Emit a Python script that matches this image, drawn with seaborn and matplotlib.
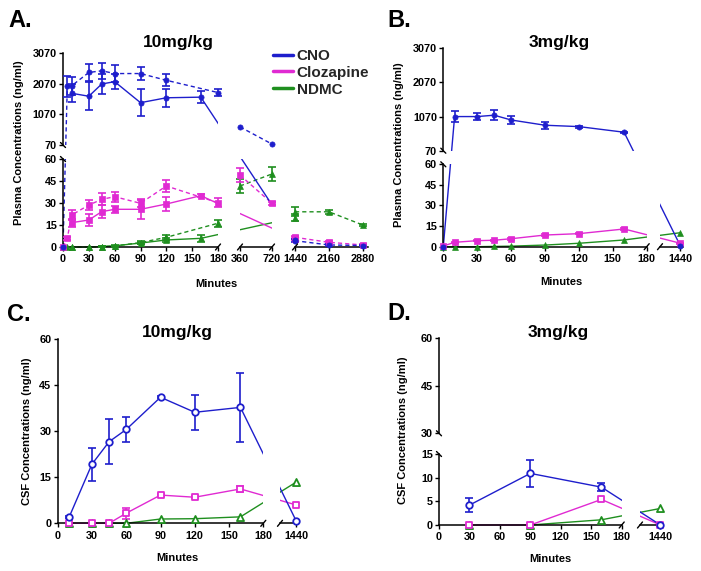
import numpy as np
import pandas as pd
import matplotlib
matplotlib.use("Agg")
import matplotlib.pyplot as plt
import seaborn as sns
from matplotlib.lines import Line2D

# ---------------- data ----------------
series_names = ["CNO", "Clozapine", "NDMC"]

# Panel A (plasma, 10 mg/kg) - solid-line group
A_solid_time = [10, 30, 45, 60, 90, 120, 160, 1440]
A_solid_cno = [1757, 1660, 2060, 2135, 1450, 1610, 1630, 5]
A_solid_cno_err = [300, 460, 330, 250, 450, 300, 200, 0]
A_solid_clz = [16.6, 18.4, 24.1, 25.7, 25.7, 29.3, 35.0, 5.7]
A_solid_clz_err = [2.7, 4.2, 4.5, 2.3, 6.8, 4.8, 1.0, 1.0]
A_solid_ndmc = [0, 0, 0.3, 0.8, 2.7, 4.8, 5.9, 20.0]
A_solid_ndmc_err = [0, 0, 0.3, 0.5, 0.8, 1.2, 2.3, 2.5]

# Panel A - dashed-line group
A_dash_time = [0, 5, 10, 30, 45, 60, 90, 120, 180, 360, 720, 1440, 2160, 2880]
A_dash_cno = [0, 1980, 2000, 2435, 2490, 2400, 2400, 2180, 1780, 660, 100, 4.3, 1.4, 1.0]
A_dash_cno_err = [0, 350, 300, 270, 270, 280, 200, 190, 120, 0, 0, 1.0, 0.5, 0.5]
A_dash_clz = [0, 5.9, 21.8, 28.6, 32.5, 34.3, 29.8, 41.6, 30.2, 49.0, 29.8, 6.6, 3.2, 1.4]
A_dash_clz_err = [0, 1.0, 3.4, 3.4, 4.0, 3.4, 2.5, 4.0, 3.0, 4.6, 1.0, 1.0, 0.8, 0.5]
A_dash_ndmc = [0, 0, 0, 0, 0.3, 0.7, 3.0, 6.6, 16.2, 41.6, 49.8, 24.0, 24.0, 15.0]
A_dash_ndmc_err = [0, 0, 0, 0, 0.2, 0.3, 0.8, 1.5, 2.3, 5.1, 4.8, 3.0, 1.5, 0.5]

# Panel B (plasma, 3 mg/kg)
B_time = [0, 10, 30, 45, 60, 90, 120, 160, 1440]
B_cno = [0, 1070, 1070, 1110, 970, 816, 776, 611, 0.5]
B_cno_err = [0, 155, 110, 140, 110, 100, 30, 20, 0]
B_clz = [0.5, 3.2, 4.4, 4.7, 5.8, 8.5, 9.5, 12.9, 2.5]
B_clz_err = [0, 0.5, 0.5, 0.5, 0.6, 0.8, 0.6, 0.8, 0.4]
B_ndmc = [0, 0, 0, 0.2, 0.4, 1.2, 2.5, 4.9, 10.2]
B_ndmc_err = [0, 0, 0, 0, 0, 0, 0, 0, 0]

# Panel C (CSF, 10 mg/kg)
C_time = [10, 30, 45, 60, 90, 120, 160, 1440]
C_cno = [2.0, 19.3, 26.6, 30.6, 41.1, 36.2, 37.8, 0.9]
C_cno_err = [0.3, 5.4, 7.3, 4.0, 0.4, 5.7, 11.2, 0]
C_clz = [0, 0, 0, 3.3, 9.2, 8.5, 11.2, 6.0]
C_clz_err = [0, 0, 0, 1.8, 0.3, 0.3, 1.0, 0]
C_ndmc = [0, 0, 0, 0, 1.4, 1.5, 2.1, 13.4]
C_ndmc_err = [0, 0, 0, 0, 0, 0, 0, 0]

# Panel D (CSF, 3 mg/kg)
D_time = [30, 90, 160, 1440]
D_cno = [4.2, 10.9, 8.0, 0]
D_cno_err = [1.4, 2.8, 0.9, 0]
D_clz = [0, 0, 5.4, 0]
D_clz_err = [0, 0, 0, 0]
D_ndmc = [0, 0, 1.1, 3.5]
D_ndmc_err = [0, 0, 0, 0]

# tick labels
minute_ticks = [0, 30, 60, 90, 120, 150, 180]
A_mid_ticks = [360, 720]
A_late_ticks = [1440, 2160, 2880]
day_ticks = [1440]
plasma_top_ticks = [70, 1070, 2070, 3070]
plasma_bot_ticks = [0, 15, 30, 45, 60]
csf_ticks = [0, 15, 30, 45, 60]
D_top_ticks = [30, 45, 60]
D_bot_ticks = [0, 5, 10, 15]

# ---------------- style ----------------
sns.set_theme(style="ticks")
plt.rcParams['font.family'] = ['Liberation Sans', 'DejaVu Sans']
plt.rcParams['font.weight'] = 'bold'

BLUE = '#1e1ecc'
MAG = '#e02ad2'
GREEN = '#1f8f1f'

W, H = 701, 571
fig = plt.figure(figsize=(W / 100, H / 100), dpi=100)
fig.patch.set_facecolor('white')


def make_panel(xsegs, ysegs, xticks, yticks):
    grid = []
    for yi, (ylim, (py0, py1)) in enumerate(ysegs):
        row = []
        for xi, (xlim, (px0, px1)) in enumerate(xsegs):
            ax = fig.add_axes([px0 / W, 1 - py1 / H, (px1 - px0) / W, (py1 - py0) / H])
            ax.patch.set_alpha(0)
            ax.set_xlim(*xlim)
            ax.set_ylim(*ylim)
            ax._seg_col = xi
            row.append(ax)
        grid.append(row)
    return dict(xsegs=xsegs, ysegs=ysegs, grid=grid, pending=[],
                axes=[a for r in grid for a in r], xticks=xticks, yticks=yticks)


def locate(panel, x, y):
    def pick(segs, v):
        best, bd = 0, None
        for i, (lim, _) in enumerate(segs):
            d = 0 if lim[0] <= v <= lim[1] else min(abs(v - lim[0]), abs(v - lim[1]))
            if bd is None or d < bd:
                best, bd = i, d
        return best
    return panel['grid'][pick(panel['ysegs'], y)][pick(panel['xsegs'], x)]


def draw(panel, xs, ys, es, color, marker, ms, dashed=False, open_=False):
    ls = (0, (3.0, 2.2)) if dashed else '-'
    locs = [locate(panel, x, y) for x, y in zip(xs, ys)]
    n = len(xs)

    def flush(run):
        if len(run) >= 2:
            ax = locs[run[0]]
            sns.lineplot(x=[xs[j] for j in run], y=[ys[j] for j in run], ax=ax,
                         color=color, lw=1.0, linestyle=ls, sort=False,
                         estimator=None, clip_on=False, zorder=2, legend=False)

    run = [0]
    for i in range(1, n):
        if locs[i] is locs[i - 1]:
            run.append(i)
        else:
            flush(run)
            panel['pending'].append((xs[i - 1], ys[i - 1], locs[i - 1],
                                     xs[i], ys[i], locs[i], color, ls))
            run = [i]
    flush(run)

    df = pd.DataFrame({'t': xs, 'v': ys, 'e': es})
    for ax in panel['axes']:
        idx = [k for k in range(n) if locs[k] is ax]
        if not idx:
            continue
        sub = df.iloc[idx]
        eb = sub[sub.e > 0]
        if len(eb):
            cont = ax.errorbar(eb.t, eb.v, yerr=eb.e, fmt='none', ecolor=color,
                               elinewidth=1.2, capsize=2.6, capthick=1.2, zorder=4)
            for art in list(cont.lines[1]) + list(cont.lines[2]):
                art.set_clip_on(False)
        if open_:
            sns.scatterplot(data=sub, x='t', y='v', ax=ax, marker=marker, s=ms,
                            color='white', edgecolor=color, linewidth=1.3,
                            zorder=5, clip_on=False, legend=False)
        else:
            sns.scatterplot(data=sub, x='t', y='v', ax=ax, marker=marker, s=ms,
                            color=color, edgecolor=color, linewidth=0.5,
                            zorder=5, clip_on=False, legend=False)


def draw_connections(panel):
    # segments joining points that sit in different axis segments: drawn
    # clipped in the end segments and in segments of the columns in between
    for (x0, y0, a0, x1, y1, a1, color, ls) in panel['pending']:
        d0 = a0.transData.transform((x0, y0))
        d1 = a1.transData.transform((x1, y1))
        for ax in panel['axes']:
            if ax is not a0 and ax is not a1 and ax._seg_col in (a0._seg_col, a1._seg_col):
                continue
            inv = ax.transData.inverted()
            p0 = inv.transform(d0)
            p1 = inv.transform(d1)
            ax.plot([p0[0], p1[0]], [p0[1], p1[1]], color=color, lw=1.0,
                    linestyle=ls, clip_on=True, zorder=2)


def fline(x0, y0, x1, y1):
    fig.add_artist(Line2D([x0 / W, x1 / W], [1 - y0 / H, 1 - y1 / H],
                          transform=fig.transFigure, color='black', lw=1.0))


def finalize(panel):
    xsegs, ysegs, grid = panel['xsegs'], panel['ysegs'], panel['grid']
    nrow, ncol = len(ysegs), len(xsegs)
    for yi in range(nrow):
        for xi in range(ncol):
            ax = grid[yi][xi]
            ax.set_xlim(*xsegs[xi][0])
            ax.set_ylim(*ysegs[yi][0])
            ax.set_autoscale_on(False)
            ax.set_xlabel('')
            ax.set_ylabel('')
            for s in ax.spines.values():
                s.set_visible(False)
            ax.grid(False)
            if xi == 0:
                ax.spines['left'].set_visible(True)
                ax.spines['left'].set_color('black')
                ax.spines['left'].set_linewidth(1.1)
                ax.set_yticks(panel['yticks'][yi])
                ax.set_yticklabels([str(t) for t in panel['yticks'][yi]])
            else:
                ax.set_yticks([])
            if yi == nrow - 1:
                ax.spines['bottom'].set_visible(True)
                ax.spines['bottom'].set_color('black')
                ax.spines['bottom'].set_linewidth(1.1)
                ax.set_xticks(panel['xticks'][xi])
                ax.set_xticklabels([str(t) for t in panel['xticks'][xi]])
            else:
                ax.set_xticks([])
            ax.tick_params(axis='y', direction='out', length=3, width=1, color='black',
                           labelsize=7.8, labelcolor='black', pad=1.5)
            ax.tick_params(axis='x', direction='out', length=3, width=1, color='black',
                           labelsize=7.8, labelcolor='black', pad=2.2)
            for lab in ax.get_xticklabels() + ax.get_yticklabels():
                lab.set_fontweight('bold')
    draw_connections(panel)
    # x-axis break marks
    ybot = ysegs[-1][1][1]
    for xi in range(ncol):
        px0, px1 = xsegs[xi][1]
        if xi < ncol - 1:
            fline(px1 - 2.5, ybot + 3, px1 + 2.5, ybot - 3)
        if xi > 0:
            fline(px0 - 2.5, ybot + 3, px0 + 2.5, ybot - 3)
    # y-axis break marks
    xl = xsegs[0][1][0]
    for yi in range(nrow):
        py0, py1 = ysegs[yi][1]
        if yi < nrow - 1:
            fline(xl - 2.5, py1 - 2.5, xl + 2.5, py1 + 2.5)
        if yi > 0:
            fline(xl - 2.5, py0 - 2.5, xl + 2.5, py0 + 2.5)


# ---------------- panel A ----------------
pA = make_panel(
    xsegs=[((0, 180), (63, 218)), ((360, 720), (240, 272)), ((1440, 2990), (295, 368))],
    ysegs=[((70, 3070), (53, 145)), ((0, 60), (159, 247))],
    xticks=[minute_ticks, A_mid_ticks, A_late_ticks],
    yticks=[plasma_top_ticks, plasma_bot_ticks])
draw(pA, A_dash_time, A_dash_ndmc, A_dash_ndmc_err, GREEN, '^', 18, dashed=True)
draw(pA, A_solid_time, A_solid_ndmc, A_solid_ndmc_err, GREEN, '^', 18)
draw(pA, A_dash_time, A_dash_clz, A_dash_clz_err, MAG, 's', 13, dashed=True)
draw(pA, A_solid_time, A_solid_clz, A_solid_clz_err, MAG, 's', 13)
draw(pA, A_dash_time, A_dash_cno, A_dash_cno_err, BLUE, 'o', 14, dashed=True)
draw(pA, A_solid_time, A_solid_cno, A_solid_cno_err, BLUE, 'o', 14)
finalize(pA)

# ---------------- panel B ----------------
pB = make_panel(
    xsegs=[((0, 180), (443.3, 646.7)), ((1360, 1450), (660, 683))],
    ysegs=[((70, 3070), (48.3, 150.7)), ((0, 60), (164.3, 246.7))],
    xticks=[minute_ticks, day_ticks],
    yticks=[plasma_top_ticks, plasma_bot_ticks])
draw(pB, B_time, B_ndmc, B_ndmc_err, GREEN, '^', 18)
draw(pB, B_time, B_clz, B_clz_err, MAG, 's', 13)
draw(pB, B_time, B_cno, B_cno_err, BLUE, 'o', 14)
finalize(pB)

# ---------------- panel C ----------------
pC = make_panel(
    xsegs=[((0, 180), (57.7, 263.3)), ((1360, 1450), (280, 298))],
    ysegs=[((0, 60), (339.3, 523.3))],
    xticks=[minute_ticks, day_ticks],
    yticks=[csf_ticks])
draw(pC, C_time, C_ndmc, C_ndmc_err, GREEN, '^', 26, open_=True)
draw(pC, C_time, C_clz, C_clz_err, MAG, 's', 20, open_=True)
draw(pC, C_time, C_cno, C_cno_err, BLUE, 'o', 22, open_=True)
finalize(pC)

# ---------------- panel D ----------------
pD = make_panel(
    xsegs=[((0, 180), (439, 621.7)), ((1360, 1450), (640, 663))],
    ysegs=[((30, 60), (337.7, 433.3)), ((0, 15), (454, 525))],
    xticks=[minute_ticks, day_ticks],
    yticks=[D_top_ticks, D_bot_ticks])
draw(pD, D_time, D_ndmc, D_ndmc_err, GREEN, '^', 26, open_=True)
draw(pD, D_time, D_clz, D_clz_err, MAG, 's', 20, open_=True)
draw(pD, D_time, D_cno, D_cno_err, BLUE, 'o', 22, open_=True)
finalize(pD)

# ---------------- texts ----------------
def ftext(x, y, s, **kw):
    fig.text(x / W, 1 - y / H, s, color='black', **kw)

for (x, y, s) in [(8, 26.7, 'A.'), (387, 26.7, 'B.'), (7, 320.7, 'C.'), (387, 320.5, 'D.')]:
    ftext(x, y, s, fontsize=17, fontweight='bold', ha='left', va='baseline')
for (x, y, s) in [(178, 46.7, '10mg/kg'), (559, 46.7, '3mg/kg'),
                  (177, 336.7, '10mg/kg'), (558, 336.7, '3mg/kg')]:
    ftext(x, y, s, fontsize=12.5, fontweight='bold', ha='center', va='baseline')
for (x, y) in [(216, 287.3), (561, 285), (177, 560.7), (550, 561.7)]:
    ftext(x, y, 'Minutes', fontsize=8, fontweight='bold', ha='center', va='baseline')
for (x, y, s) in [(19.5, 143, 'Plasma Concentrations (ng/ml)'),
                  (398.7, 145, 'Plasma Concentrations (ng/ml)'),
                  (26.5, 431, 'CSF Concentrations (ng/ml)'),
                  (403, 430, 'CSF Concentrations (ng/ml)')]:
    ftext(x, y, s, fontsize=8, fontweight='bold', ha='center', va='center', rotation=90)

handles = [Line2D([], [], color=c, lw=2.5) for c in (BLUE, MAG, GREEN)]
fig.legend(handles, series_names, loc='upper left', bbox_to_anchor=(273 / W, 1 - 49 / H),
           frameon=False, borderpad=0, borderaxespad=0, handlelength=1.3,
           handletextpad=0.25, labelspacing=0.18, prop={'weight': 'bold', 'size': 11})

fig.savefig('out.png', dpi=100, facecolor='white')
